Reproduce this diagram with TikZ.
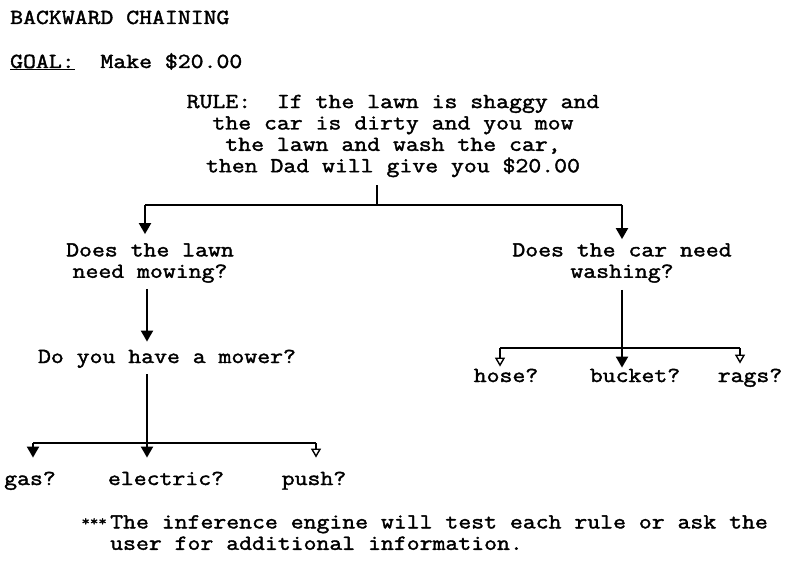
\documentclass[tikz,border=0pt]{standalone}
\usepackage{fontspec}
\setmainfont{Latin Modern Mono}[FakeBold=1.8,FakeStretch=1.17]
\usetikzlibrary{arrows.meta}
\begin{document}
\begin{tikzpicture}[x=1pt,y=-1pt,
  txt/.style={inner sep=0pt,font=\fontsize{21.4}{21.4}\selectfont,align=center},
  ln/.style={line width=2pt},
  arr/.style={line width=2pt,-{Triangle[width=12pt,length=11pt]}},
  thin arr/.style={line width=1.4pt,-{Triangle[open,width=10pt,length=9pt]}}]
\useasboundingbox (0,0) rectangle (800,569);
% titles
\node[txt,anchor=base west] (title) at (10,24) {BACKWARD CHAINING};
\node[txt,anchor=base west] (goal) at (10,68) {\underline{GOAL:}\ \ Make \$20.00};
% rule
\node[txt] (rule) at (393,136) {RULE:\ \ If the lawn is shaggy and\\the car is dirty and you mow\\the lawn and wash the car,\\then Dad will give you \$20.00};
\coordinate (j0) at (377,205);
\coordinate (jl) at (145,205);
\coordinate (jr) at (622,205);
% level 1
\node[txt] (lawn) at (150,263) {Does the lawn\\need mowing?};
\node[txt] (car) at (622,263) {Does the car need\\washing?};
\draw[ln] (rule.south -| j0) ++(0,8) -- (j0);
\draw[ln] (jl) -- (jr);
\draw[arr] (jl) -- ([yshift=9pt]lawn.north -| jl);
\draw[arr] (jr) -- ([yshift=4pt]car.north -| jr);
% mower
\node[txt,anchor=base] (mower) at (167,363) {Do you have a mower?};
\draw[arr] ([yshift=-6pt]lawn.south -| 147,0) -- ([yshift=8pt]mower.north -| 147,0);
\coordinate (jm) at (147,443);
\coordinate (jm1) at (33,443);
\coordinate (jm3) at (316,443);
\node[txt,anchor=base] (gas) at (30,485) {gas?};
\node[txt,anchor=base] (elec) at (166,485) {electric?};
\node[txt,anchor=base] (push) at (314,485) {push?};
\draw[ln] ([yshift=-6pt]mower.south -| jm) -- (jm);
\draw[line width=1.4pt] (jm1) -- (jm3);
\draw[arr] (jm1) -- ([yshift=14pt]gas.north -| jm1);
\draw[arr] (jm) -- ([yshift=14pt]elec.north -| jm);
\draw[thin arr] (jm3) -- ([yshift=14pt]push.north -| jm3);
% car branch
\coordinate (jc) at (622,348);
\coordinate (jc1) at (500,348);
\coordinate (jc3) at (740,348);
\node[txt,anchor=base] (hose) at (506,382) {hose?};
\node[txt,anchor=base] (bucket) at (635,382) {bucket?};
\node[txt,anchor=base] (rags) at (750,382) {rags?};
\draw[ln] ([yshift=-7pt]car.south -| jc) -- (jc);
\draw[ln] (jc1) -- (jc3);
\draw[thin arr] (jc1) -- ([yshift=2pt]hose.north -| jc1);
\draw[arr] (jc) -- ([yshift=1pt]bucket.north -| jc);
\draw[thin arr] (jc3) -- ([yshift=5pt]rags.north -| jc3);
% footnote
\node[txt,anchor=east,font=\fontsize{14}{14}\selectfont] (stars) at (107,522) {***};
\node[txt,anchor=north west,align=left] (note) at (110,515) {The inference engine will test each rule or ask the\\user for additional information.};
\end{tikzpicture}
\end{document}
